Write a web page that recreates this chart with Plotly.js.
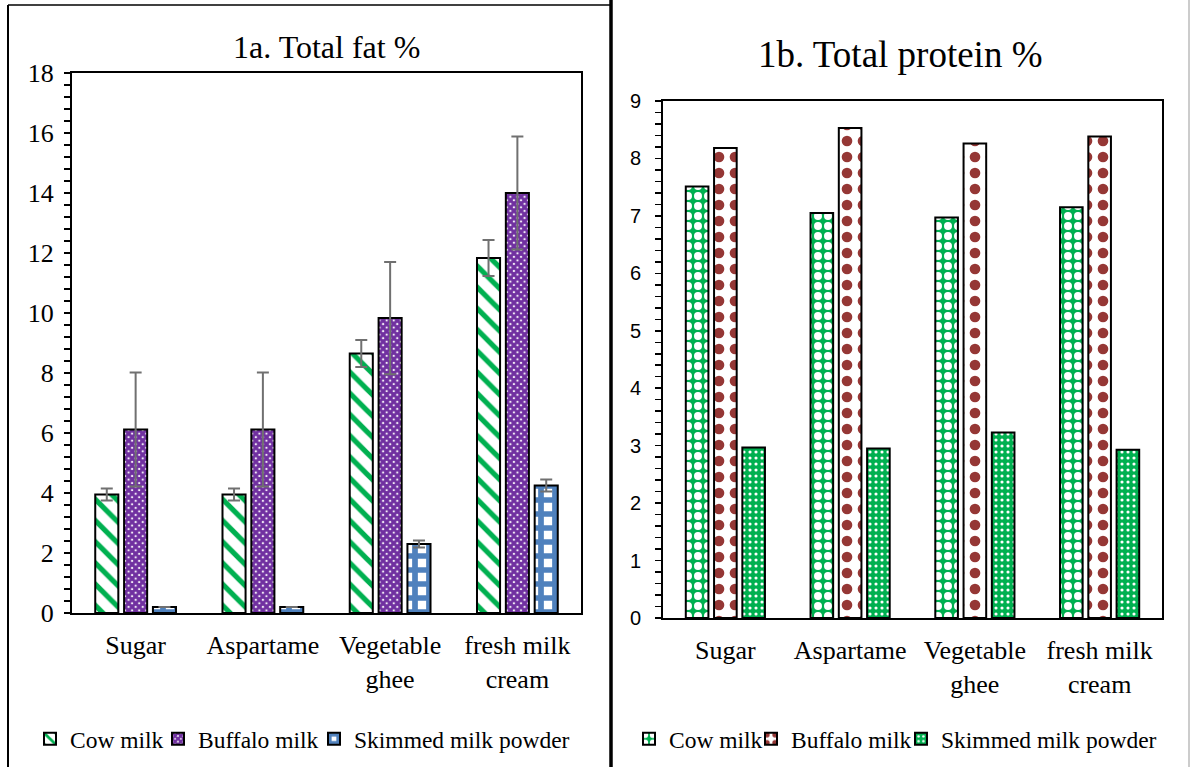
<!DOCTYPE html>
<html>
<head>
<meta charset="utf-8">
<script src="https://cdn.plot.ly/plotly-3.0.1.min.js"></script>
<style>html,body{margin:0;padding:0;background:#fff;}#chart{width:1191px;height:767px;}</style>
</head>
<body>
<div id="chart"></div>
<script>
// ---- data ----
var categories = ["Sugar", "Aspartame", "Vegetable<br>ghee", "fresh milk<br>cream"];
var seriesNames = ["Cow milk", "Buffalo milk", "Skimmed milk powder"];

// 1a. Total fat %
var fatCow = [3.95, 3.95, 8.65, 11.83];
var fatCowErr = [0.2, 0.2, 0.45, 0.6];
var fatBuffalo = [6.12, 6.12, 9.83, 14.0];
var fatBuffaloErr = [1.9, 1.9, 1.87, 1.88];
var fatSkim = [0.2, 0.2, 2.3, 4.25];
var fatSkimErr = [null, null, 0.12, 0.2];

// 1b. Total protein %
var protCow = [7.51, 7.05, 6.97, 7.15];
var protBuffalo = [8.18, 8.53, 8.26, 8.38];
var protSkim = [2.97, 2.95, 3.23, 2.93];

var fatTicks = [0, 2, 4, 6, 8, 10, 12, 14, 16, 18];
var protTicks = [0, 1, 2, 3, 4, 5, 6, 7, 8, 9];

// ---- layout helpers ----
var W = 1191, H = 767;
function px(x) { return x / W; }
function py(y) { return 1 - y / H; }

var serif = "'Liberation Serif', 'Times New Roman', serif";
var sans = "'Liberation Sans', Arial, sans-serif";

var errStyle = {type: "data", color: "#707070", thickness: 2, width: 6, visible: true};
var outline = {color: "black", width: 2};

var traces = [
  {type: "bar", name: seriesNames[0], x: categories, y: fatCow, xaxis: "x", yaxis: "y", legend: "legend",
   error_y: Object.assign({array: fatCowErr}, errStyle),
   marker: {color: "white", line: outline, pattern: {shape: "\\", fgcolor: "#00B050", bgcolor: "white", size: 15, solidity: 0.35}}},
  {type: "bar", name: seriesNames[1], x: categories, y: fatBuffalo, xaxis: "x", yaxis: "y", legend: "legend2",
   error_y: Object.assign({array: fatBuffaloErr}, errStyle),
   marker: {color: "white", line: outline, pattern: {shape: "x", fgcolor: "#7030A0", bgcolor: "white", size: 5, solidity: 0.85}}},
  {type: "bar", name: seriesNames[2], x: categories, y: fatSkim, xaxis: "x", yaxis: "y", legend: "legend3",
   error_y: Object.assign({array: fatSkimErr}, errStyle),
   marker: {color: "white", line: outline, pattern: {shape: "+", fgcolor: "#4F81BD", bgcolor: "white", size: 14, solidity: 0.65}}},

  {type: "bar", name: seriesNames[0], x: categories, y: protCow, xaxis: "x2", yaxis: "y2", legend: "legend4",
   marker: {color: "#00B050", line: outline, pattern: {shape: ".", fgcolor: "white", bgcolor: "#00B050", size: 10, solidity: 0.5}}},
  {type: "bar", name: seriesNames[1], x: categories, y: protBuffalo, xaxis: "x2", yaxis: "y2", legend: "legend5",
   marker: {color: "white", line: outline, pattern: {shape: ".", fgcolor: "#953735", bgcolor: "white", size: 16, solidity: 0.35}}},
  {type: "bar", name: seriesNames[2], x: categories, y: protSkim, xaxis: "x2", yaxis: "y2", legend: "legend6",
   marker: {color: "#00B050", line: outline, pattern: {shape: ".", fgcolor: "white", bgcolor: "#00B050", size: 6, solidity: 0.22}}}
];

var yTickFontL = {family: serif, size: 26, color: "black"};
var yTickFontR = {family: sans, size: 20, color: "black"};
var catFont = {family: serif, size: 26, color: "black"};
var legFont = {family: serif, size: 23.5, color: "black"};

function leg(xpix) {
  return {orientation: "h", x: px(xpix), xanchor: "left", y: py(739), yanchor: "middle",
          font: legFont, itemwidth: 30, bgcolor: "rgba(0,0,0,0)"};
}

var layout = {
  width: W, height: H,
  margin: {l: 0, r: 0, t: 0, b: 0},
  paper_bgcolor: "white", plot_bgcolor: "white",
  font: {family: serif, color: "black"},
  barmode: "group", bargap: 0.32, bargroupgap: 0.2,
  showlegend: true,
  xaxis: {domain: [px(72), px(581)], anchor: "y", showline: true, mirror: true, linecolor: "black", linewidth: 2,
          ticks: "", tickfont: catFont, showgrid: false, zeroline: false, ticklabelstandoff: 8},
  yaxis: {domain: [py(613), py(73)], anchor: "x", range: [0, 18], tickvals: fatTicks, showline: true, mirror: true,
          linecolor: "black", linewidth: 2, ticks: "outside", ticklen: 6, tickwidth: 1.5, tickcolor: "black",
          minor: {ticks: "outside", ticklen: 6, tickwidth: 1.5, tickcolor: "black", dtick: 0.4, showgrid: false},
          tickfont: yTickFontL, showgrid: false, zeroline: false, ticklabelstandoff: 5},
  xaxis2: {domain: [px(663), px(1162)], anchor: "y2", showline: true, mirror: true, linecolor: "black", linewidth: 2,
           ticks: "", tickfont: catFont, showgrid: false, zeroline: false, ticklabelstandoff: 8},
  yaxis2: {domain: [py(618), py(101)], anchor: "x2", range: [0, 9], tickvals: protTicks, showline: true, mirror: true,
           linecolor: "black", linewidth: 2, ticks: "outside", ticklen: 6, tickwidth: 1.5, tickcolor: "black",
           minor: {ticks: "outside", ticklen: 6, tickwidth: 1.5, tickcolor: "black", dtick: 0.2, showgrid: false},
           tickfont: yTickFontR, showgrid: false, zeroline: false, ticklabelstandoff: 10},
  legend: leg(30),
  legend2: leg(158),
  legend3: leg(314),
  legend4: leg(629),
  legend5: leg(751),
  legend6: leg(901),
  annotations: [
    {text: "1a. Total fat %", xref: "paper", yref: "paper", x: px(326), y: py(47), xanchor: "center", yanchor: "middle",
     showarrow: false, font: {family: serif, size: 32, color: "black"}},
    {text: "1b. Total protein %", xref: "paper", yref: "paper", x: px(900), y: py(55), xanchor: "center", yanchor: "middle",
     showarrow: false, font: {family: serif, size: 37, color: "black"}}
  ],
  shapes: [
    {type: "line", xref: "paper", yref: "paper", x0: px(8), x1: px(8), y0: py(5), y1: 0, line: {color: "black", width: 2}},
    {type: "line", xref: "paper", yref: "paper", x0: px(8), x1: px(611), y0: py(5), y1: py(5), line: {color: "black", width: 1.5}},
    {type: "line", xref: "paper", yref: "paper", x0: px(611), x1: px(611), y0: 1, y1: 0, line: {color: "black", width: 3.5}},
    {type: "line", xref: "paper", yref: "paper", x0: px(1189), x1: px(1189), y0: 1, y1: 0, line: {color: "#999999", width: 1}}
  ]
};

Plotly.newPlot("chart", traces, layout, {displayModeBar: false, staticPlot: true});
</script>
</body>
</html>
